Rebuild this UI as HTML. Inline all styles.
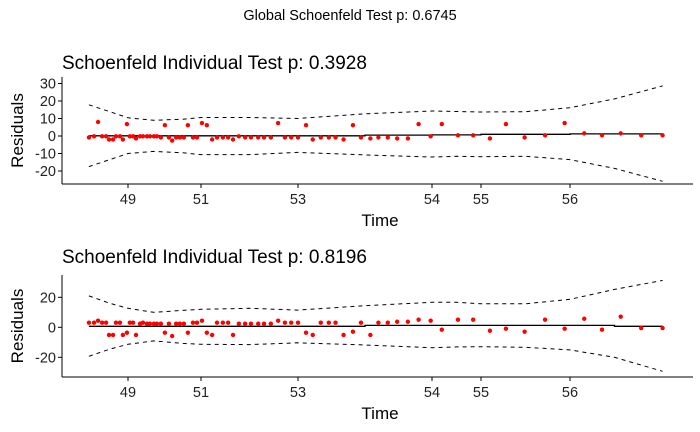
<!DOCTYPE html>
<html><head><meta charset="utf-8">
<style>
body{margin:0;background:#fff;}
svg{display:block;font-family:"Liberation Sans",Arial,sans-serif;}
</style></head>
<body>
<svg id="chart" width="700" height="432" viewBox="0 0 700 432" xmlns="http://www.w3.org/2000/svg">
<text x="350" y="20" text-anchor="middle" font-size="14.5">Global Schoenfeld Test p: 0.6745</text>
</svg>
<script>
// ----- data -----
const times = [47.93,48.07,48.18,48.29,48.40,48.48,48.59,48.67,48.78,48.86,48.97,49.05,49.14,49.22,49.33,49.41,49.52,49.60,49.71,49.79,49.90,50.01,50.12,50.21,50.32,50.42,50.53,50.64,50.78,50.89,51.02,51.12,51.23,51.33,51.45,51.56,51.66,51.78,51.91,52.03,52.18,52.30,52.44,52.59,52.73,52.86,53.00,53.06,53.11,53.17,53.23,53.28,53.34,53.41,53.47,53.54,53.60,53.67,53.74,53.82,53.90,53.99,54.20,54.53,54.84,55.10,55.28,55.49,55.72,55.94,56.16,56.36,56.57,56.80,57.04];
const resid1 = [-0.8,-0.2,8.0,-0.2,-0.2,-2.0,-2.0,-0.2,-0.2,-2.0,6.8,-0.2,-0.2,-1.4,-0.2,-0.2,-0.2,-0.2,-0.2,-0.2,-0.8,6.2,-0.8,-2.6,-0.8,-0.8,-0.8,6.2,-0.8,-0.8,7.4,6.2,-2.0,-0.8,-0.8,-0.8,-2.0,-0.2,-0.8,-0.8,-0.8,-0.8,-0.8,7.4,-0.8,-0.8,-0.8,6.2,-2.0,-0.8,-0.8,-0.8,-2.0,6.2,-0.8,-1.4,-0.8,-0.8,-1.4,-1.4,6.8,-0.2,6.8,0.4,0.4,-1.4,6.8,-0.8,0.4,7.4,1.5,0.4,1.5,0.4,0.4];
const resid2 = [3.1,3.1,4.4,3.1,3.1,-5.1,-5.1,3.1,3.1,-5.1,-3.6,3.1,3.1,-5.1,2.4,3.1,2.4,2.4,2.4,2.4,2.4,-3.6,2.4,-5.8,2.4,2.4,2.4,-3.6,3.1,3.1,4.4,-3.6,-5.1,3.1,3.1,3.1,-5.1,2.4,2.4,2.4,2.4,2.4,2.4,4.4,3.1,3.1,3.1,-3.6,-5.1,3.1,3.1,3.1,-5.1,-2.9,3.1,-5.1,3.1,3.1,3.7,3.7,5.1,4.4,-1.6,5.1,5.1,-2.3,-0.9,-2.9,5.1,-0.9,5.7,-1.6,7.1,-0.5,-0.5];
const bandTimes = [47.93,48.5,49.0,49.7,50.5,51.0,52.0,53.0,53.5,54.0,54.5,55.0,55.5,56.0,56.5,57.04];
const upper1 = [17.8,13.9,10.4,9.0,9.6,10.6,10.6,10.0,12.7,14.3,14.0,13.7,13.9,16.2,21.2,28.6];
const lower1 = [-17.5,-13.5,-10.0,-8.8,-9.6,-10.6,-10.6,-9.4,-10.8,-12.0,-11.6,-11.8,-11.6,-13.5,-18.5,-25.9];
const fit1 = [0.1,0.1,0.1,0.1,0.1,0.1,0.1,0.1,0.5,0.6,0.6,1.0,1.0,1.2,1.2,1.2];
const upper2 = [20.9,16.0,12.7,10.0,11.3,12.0,12.7,11.5,14.4,16.7,16.7,15.7,15.7,18.7,25.3,31.3];
const lower2 = [-19.3,-14.5,-11.3,-9.1,-10.7,-11.3,-11.5,-10.3,-11.8,-13.6,-13.1,-12.9,-13.3,-15.1,-20.0,-29.3];
const fit2 = [0.7,0.7,0.7,0.7,0.7,0.7,0.7,0.7,1.3,1.3,1.3,1.3,1.3,1.3,0.7,0.7];
const xTickLabels = [49,51,53,54,55,56];
const yTicks1 = [30,20,10,0,-10,-20];
const yTicks2 = [20,0,-20];
const pvals = ["0.3928","0.8196"];

// ----- scales -----
const knotT = [49,51,53,54,55,56];
const knotP = [128,201,298,432,481,570];
function xScale(t){
  let i=0;
  if(t<=knotT[0]) i=0;
  else if(t>=knotT[knotT.length-1]) i=knotT.length-2;
  else { while(t>knotT[i+1]) i++; }
  return knotP[i]+(t-knotT[i])*(knotP[i+1]-knotP[i])/(knotT[i+1]-knotT[i]);
}
const NS="http://www.w3.org/2000/svg";
const svg=document.getElementById('chart');
function mk(tag,attrs,parent){const e=document.createElementNS(NS,tag);for(const k in attrs)e.setAttribute(k,attrs[k]);(parent||svg).appendChild(e);return e;}

function panel(cfg){
  const g=mk('g',{});
  
  
  const y=v=>cfg.zeroY - v*cfg.pxPer;
  const t=mk('text',{x:62,y:cfg.titleY,'font-size':19},g);
  t.textContent='Schoenfeld Individual Test p: '+cfg.p;
  
  
  // axes
  const ya=mk('line',{x1:62,y1:cfg.top,x2:62,y2:cfg.axisY,stroke:'#000','stroke-width':1},g);
  
  
  const xa=mk('line',{x1:62,y1:cfg.axisY,x2:693,y2:cfg.axisY,stroke:'#000','stroke-width':1},g);
  
  
  cfg.yTicks.forEach(v=>{
    mk('line',{x1:58,y1:y(v),x2:62,y2:y(v),stroke:'#000'},g);
    const l=mk('text',{x:56,y:y(v)+5,'text-anchor':'end','font-size':14.5,fill:'#222'},g);
    l.textContent=v;
    
    
  });
  xTickLabels.forEach(v=>{
    const px=xScale(v);
    mk('line',{x1:px,y1:cfg.axisY,x2:px,y2:cfg.axisY+4,stroke:'#000'},g);
    const l=mk('text',{x:px,y:cfg.axisY+20,'text-anchor':'middle','font-size':14.5,fill:'#222'},g);
    l.textContent=v;
    
    
  });
  const xt=mk('text',{x:380,y:cfg.axisY+42,'text-anchor':'middle','font-size':17},g);
  xt.textContent='Time';
  
  
  const cy=(cfg.top+cfg.axisY)/2;
  const yt=mk('text',{x:23,y:cy,'text-anchor':'middle','font-size':17,transform:'rotate(-90 23 '+cy+')'},g);
  yt.textContent='Residuals';
  
  
  // bands
  [cfg.upper,cfg.lower].forEach((arr,k)=>{
    const d=bandTimes.map((tt,i)=>(i?'L':'M')+xScale(tt).toFixed(1)+','+y(arr[i]).toFixed(1)).join(' ');
    const p=mk('path',{d:d,fill:'none',stroke:'#000','stroke-width':1,'stroke-dasharray':'4,4'},g);
    
    
  });
  // fit (step)
  let d='';
  bandTimes.forEach((tt,i)=>{
    const px=xScale(tt).toFixed(1), py=y(cfg.fit[i]).toFixed(1);
    d+= i? 'H'+px+' V'+py : 'M'+px+','+py;
  });
  const f=mk('path',{d:d,fill:'none',stroke:'#000','stroke-width':1.3},g);
  
  
  // points
  times.forEach((tt,i)=>{
    const c=mk('circle',{cx:xScale(tt),cy:y(cfg.resid[i]),r:2.2,fill:'#ff0000'},g);
    
    
  });
}
panel({name:'panel-1',p:pvals[0],titleY:69,top:77,axisY:184,zeroY:136,pxPer:1.75,yTicks:yTicks1,upper:upper1,lower:lower1,fit:fit1,resid:resid1});
panel({name:'panel-2',p:pvals[1],titleY:263,top:275,axisY:377,zeroY:327.3,pxPer:1.5,yTicks:yTicks2,upper:upper2,lower:lower2,fit:fit2,resid:resid2});
</script>
</body></html>
